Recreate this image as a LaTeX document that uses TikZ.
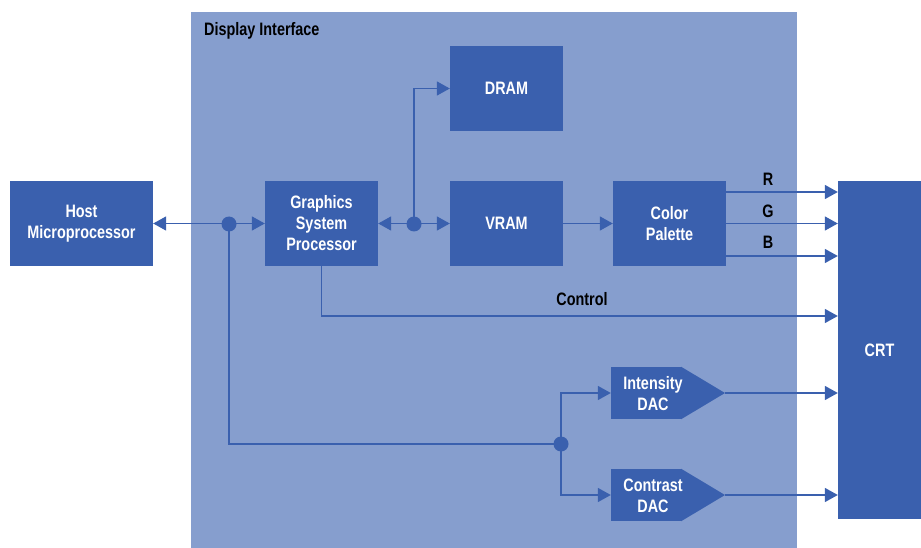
\documentclass[tikz,border=0pt]{standalone}
\usepackage{fontspec}
\setmainfont{Liberation Sans}[FakeStretch=0.8]
\usetikzlibrary{arrows.meta}
\definecolor{boxblue}{RGB}{58,96,174}
\definecolor{panelblue}{RGB}{134,158,206}
\tikzset{
  blk/.style={fill=boxblue, draw=none, text=white, font=\bfseries\fontsize{18}{21}\selectfont, align=center, inner sep=0pt},
  txt/.style={text=white, font=\bfseries\fontsize{18}{21}\selectfont, align=center, inner sep=0pt},
  wire/.style={draw=boxblue, line width=1.6pt},
  arr/.style={wire, -{Triangle[length=13pt,width=14pt]}},
  darr/.style={wire, {Triangle[length=13pt,width=14pt]}-{Triangle[length=13pt,width=14pt]}},
  lbl/.style={text=black, font=\bfseries\fontsize{18}{21}\selectfont, inner sep=0pt},
  jdot/.style={circle, fill=boxblue, minimum size=15pt, inner sep=0pt},
}
\begin{document}
\begin{tikzpicture}[x=1pt,y=-1pt]
\useasboundingbox (0,0) rectangle (921,548);
\fill[panelblue] (191,12) rectangle (797,548);
\node[lbl, anchor=west] (title) at (204,31) {Display Interface};
% blocks
\node[blk, minimum width=143pt, minimum height=85pt] (host) at (81.5,223.5) {Host\\Microprocessor};
\node[blk, minimum width=113pt, minimum height=85pt] (gsp) at (321.5,223.5) {Graphics\\System\\Processor};
\node[blk, minimum width=113pt, minimum height=85pt] (dram) at (506.5,88.5) {DRAM};
\node[blk, minimum width=113pt, minimum height=85pt] (vram) at (506.5,223.5) {VRAM};
\node[blk, minimum width=113pt, minimum height=85pt] (pal) at (669.5,223.5) {Color\\Palette};
\node[blk, minimum width=83pt, minimum height=338pt] (crt) at (879.5,350) {CRT};
% DACs
\node[blk, minimum width=70pt, minimum height=52pt] (idac) at (646,393) {};
\fill[boxblue] (idac.north east) -- (725,393) -- (idac.south east) -- cycle;
\node[txt] (idact) at (653,394) {Intensity\\DAC};
\coordinate (itip) at (725,393);
\node[blk, minimum width=70pt, minimum height=52pt] (cdac) at (646,495) {};
\fill[boxblue] (cdac.north east) -- (725,495) -- (cdac.south east) -- cycle;
\node[txt] (cdact) at (653,496) {Contrast\\DAC};
\coordinate (ctip) at (725,495);
% junctions
\node[jdot] (j1) at (229,224) {};
\node[jdot] (j2) at (414,224) {};
\node[jdot] (j3) at (561,444) {};
% connectors
\draw[darr] (host.east) -- (gsp.west);
\draw[darr] (gsp.east) -- (vram.west);
\draw[arr] (j2.center) |- (dram.west);
\draw[arr] (vram.east) -- (pal.west);
\coordinate (rs) at (726,192);
\coordinate (gs) at (726,223.5);
\coordinate (bs) at (726,256);
\draw[arr] (rs) -- (rs -| crt.west);
\draw[arr] (gs) -- (gs -| crt.west);
\draw[arr] (bs) -- (bs -| crt.west);
\node[lbl] (rl) at (768,179) {R};
\node[lbl] (gl) at (768,211) {G};
\node[lbl] (bl) at (768,242) {B};
\coordinate (cc) at (321,316);
\draw[arr] (gsp.south) |- (cc) -- (cc -| crt.west);
\node[lbl] (ctl) at (582,299) {Control};
\draw[wire] (j1.center) |- (j3.center);
\draw[arr] (j3.center) |- (idac.west);
\draw[arr] (j3.center) |- (cdac.west);
\draw[arr] (itip) -- (itip -| crt.west);
\draw[arr] (ctip) -- (ctip -| crt.west);
\end{tikzpicture}
\end{document}
